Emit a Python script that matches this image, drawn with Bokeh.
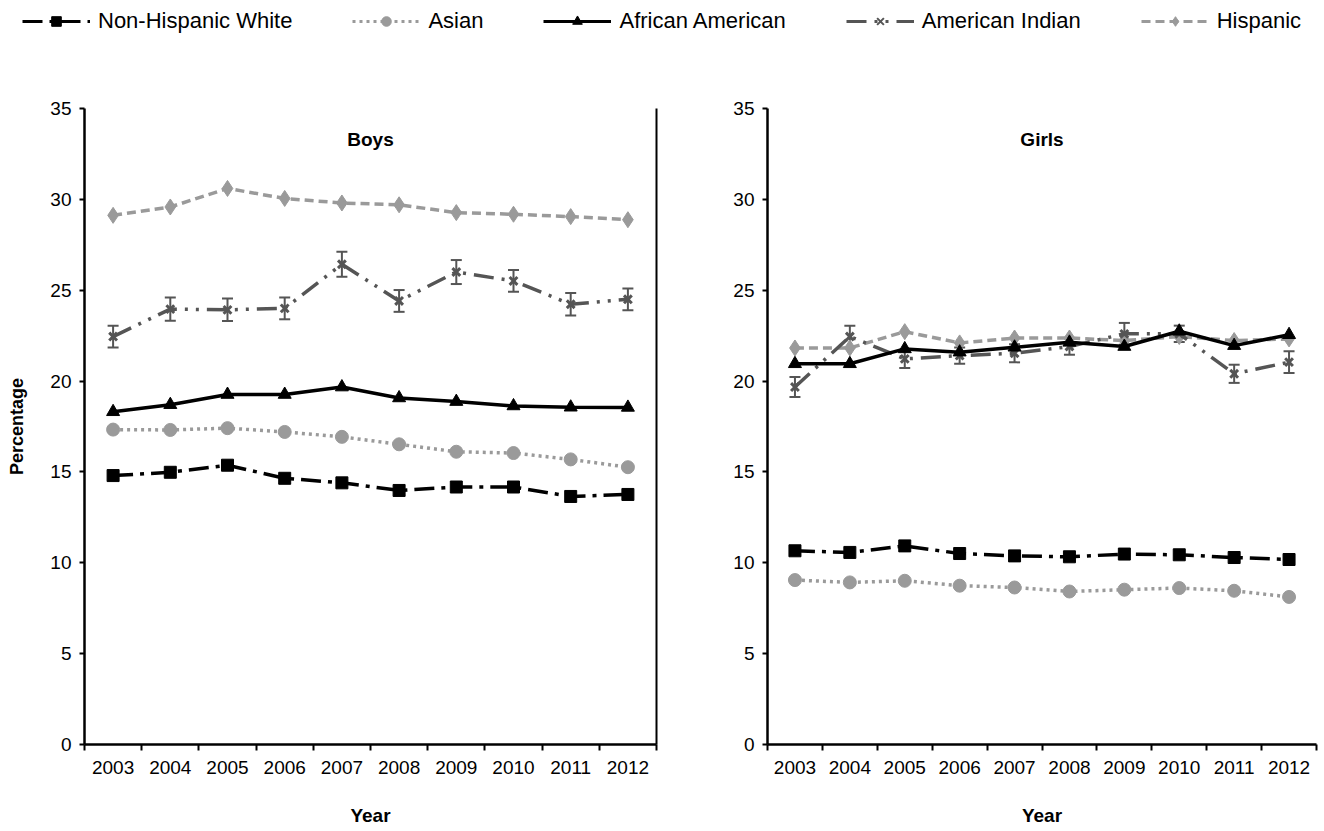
from bokeh.plotting import figure
from bokeh.models import (ColumnDataSource, Whisker, TeeHead, Legend, LegendItem,
                          FixedTicker, Label, LinearAxis, Range1d)
from bokeh.layouts import column, row
from bokeh.embed import file_html
from bokeh.resources import INLINE

# ---------------- data ----------------
years = [2003, 2004, 2005, 2006, 2007, 2008, 2009, 2010, 2011, 2012]
series_names = ["Non-Hispanic White", "Asian", "African American", "American Indian", "Hispanic"]

boys_nhw = [14.8, 14.98, 15.37, 14.65, 14.4, 13.98, 14.17, 14.17, 13.65, 13.76]
boys_asian = [17.33, 17.31, 17.41, 17.2, 16.93, 16.52, 16.11, 16.04, 15.69, 15.26]
boys_afam = [18.31, 18.7, 19.26, 19.26, 19.67, 19.07, 18.87, 18.63, 18.56, 18.55]
boys_amind = [22.45, 23.96, 23.92, 24.0, 26.43, 24.41, 26.0, 25.51, 24.23, 24.5]
boys_amind_err = [0.6, 0.64, 0.62, 0.6, 0.69, 0.6, 0.66, 0.6, 0.62, 0.6]
boys_hisp = [29.12, 29.58, 30.6, 30.05, 29.8, 29.7, 29.27, 29.18, 29.05, 28.88]

girls_nhw = [10.66, 10.57, 10.93, 10.51, 10.38, 10.33, 10.48, 10.44, 10.29, 10.18]
girls_asian = [9.05, 8.92, 9.01, 8.74, 8.64, 8.42, 8.52, 8.61, 8.46, 8.12]
girls_afam = [20.95, 20.95, 21.77, 21.59, 21.86, 22.13, 21.9, 22.74, 21.95, 22.55]
girls_amind = [19.67, 22.45, 21.22, 21.4, 21.53, 21.9, 22.6, 22.6, 20.4, 21.04]
girls_amind_err = [0.55, 0.6, 0.5, 0.45, 0.5, 0.45, 0.6, 0.45, 0.5, 0.6]
girls_hisp = [21.82, 21.82, 22.72, 22.1, 22.37, 22.37, 22.23, 22.45, 22.23, 22.32]

y_ticks = [0, 5, 10, 15, 20, 25, 30, 35]

# ---------------- styles ----------------
FONT = "Liberation Sans"
GREY = "#9a9a9a"
DGREY = "#555555"
styles = {
    "Non-Hispanic White": dict(color="black", dash="20 7 4 7", marker="square", size=12, lw=3.5),
    "Asian": dict(color=GREY, dash="3 4", marker="circle", size=13, lw=3.5),
    "African American": dict(color="black", dash="solid", marker="triangle", size=13, lw=3.5),
    "American Indian": dict(color=DGREY, dash="20 8 3 8 3 8", marker="x", size=11, lw=3.5),
    "Hispanic": dict(color=GREY, dash="9 5", marker="diamond", size=16, lw=3.5),
}

boundaries = [y - 0.5 for y in years] + [years[-1] + 0.5]


def make_panel(title, data, err, width, height, bl, br, y_label):
    p = figure(width=width, height=height, output_backend="svg", toolbar_location=None,
               x_range=Range1d(years[0] - 0.5, years[-1] + 0.5), y_range=Range1d(0, 35),
               min_border_left=bl, min_border_right=br, min_border_top=60, min_border_bottom=85)
    p.outline_line_color = None
    p.grid.visible = False
    p.background_fill_color = "white"
    p.border_fill_color = "white"

    xa = p.xaxis[0]
    xa.ticker = FixedTicker(ticks=years, minor_ticks=boundaries)
    xa.major_tick_line_color = None
    xa.major_tick_out = 5
    xa.major_tick_in = 0
    xa.minor_tick_line_color = "black"
    xa.minor_tick_line_width = 2
    xa.minor_tick_out = 6
    xa.minor_tick_in = 0
    xa.axis_line_width = 2.5
    xa.axis_label = "Year"
    xa.axis_label_text_font = FONT
    xa.axis_label_text_font_style = "bold"
    xa.axis_label_text_font_size = "19px"
    xa.axis_label_text_color = "black"
    xa.axis_label_standoff = 28
    xa.major_label_text_font = FONT
    xa.major_label_text_font_size = "19px"
    xa.major_label_standoff = 10
    xa.major_label_text_color = "black"

    ya = p.yaxis[0]
    ya.ticker = FixedTicker(ticks=y_ticks, minor_ticks=[])
    ya.major_tick_line_width = 2
    ya.major_tick_out = 5
    ya.major_tick_in = 0
    ya.axis_line_width = 2.5
    ya.major_label_text_font = FONT
    ya.major_label_text_font_size = "19px"
    ya.major_label_standoff = 8
    ya.major_label_text_color = "black"
    if y_label:
        ya.axis_label = y_label
        ya.axis_label_text_font = FONT
        ya.axis_label_text_font_style = "bold"
        ya.axis_label_text_font_size = "18px"
        ya.axis_label_text_color = "black"
        ya.axis_label_standoff = 20

    order = ["Hispanic", "American Indian", "African American", "Asian", "Non-Hispanic White"]
    for name in order:
        st = styles[name]
        src = ColumnDataSource(dict(x=years, y=data[name]))
        p.line("x", "y", source=src, line_color=st["color"], line_width=st["lw"], line_dash=st["dash"])
        if name == "American Indian":
            lo = [v - e for v, e in zip(data[name], err)]
            hi = [v + e for v, e in zip(data[name], err)]
            wsrc = ColumnDataSource(dict(x=years, lower=lo, upper=hi))
            w = Whisker(source=wsrc, base="x", lower="lower", upper="upper", dimension="height",
                        line_color=DGREY, line_width=2,
                        upper_head=TeeHead(size=11, line_color=DGREY, line_width=2),
                        lower_head=TeeHead(size=11, line_color=DGREY, line_width=2))
            p.add_layout(w)
            p.scatter("x", "y", source=src, marker="x", size=st["size"], line_color=DGREY, line_width=3)
        else:
            p.scatter("x", "y", source=src, marker=st["marker"], size=st["size"],
                      fill_color=st["color"], line_color=st["color"])

    p.add_layout(Label(x=(years[0] + years[-1]) / 2, y=33.3, text=title, text_align="center",
                       text_baseline="middle", text_font=FONT, text_font_style="bold",
                       text_font_size="19px", text_color="black"))
    return p


boys_data = {"Non-Hispanic White": boys_nhw, "Asian": boys_asian, "African American": boys_afam,
             "American Indian": boys_amind, "Hispanic": boys_hisp}
girls_data = {"Non-Hispanic White": girls_nhw, "Asian": girls_asian, "African American": girls_afam,
              "American Indian": girls_amind, "Hispanic": girls_hisp}

boys = make_panel("Boys", boys_data, boys_amind_err, 696, 781, 84, 40, "Percentage")
right_ax = LinearAxis(ticker=FixedTicker(ticks=[]), axis_line_width=2,
                      major_tick_line_color=None, minor_tick_line_color=None)
boys.add_layout(right_ax, "right")
girls = make_panel("Girls", girls_data, girls_amind_err, 624, 781, 71, 4, None)

# ---------------- legend strip ----------------
# legend swatches reuse the boys series; the strip's ranges keep the lines themselves out of view
lf = figure(width=1320, height=48, output_backend="svg", toolbar_location=None,
            x_range=Range1d(0, 1), y_range=Range1d(0, 1),
            min_border_left=22, min_border_top=8, min_border_right=0, min_border_bottom=0,
            x_axis_type=None, y_axis_type=None)
lf.outline_line_color = None
lf.grid.visible = False
items = []
for name in series_names:
    st = styles[name]
    src = ColumnDataSource(dict(x=years, y=boys_data[name]))
    lr = lf.line("x", "y", source=src, line_color=st["color"], line_width=3, line_dash=st["dash"])
    if name == "American Indian":
        mr = lf.scatter("x", "y", source=src, marker="x", size=10, line_color=DGREY, line_width=2)
    else:
        mr = lf.scatter("x", "y", source=src, marker=st["marker"], size=10,
                        fill_color=st["color"], line_color=st["color"])
    items.append(LegendItem(label=name, renderers=[lr, mr]))

leg = Legend(items=items, orientation="horizontal", location="top_left",
             padding=0, margin=0, spacing=60, glyph_width=68, glyph_height=24,
             label_standoff=8, label_text_font=FONT, label_text_font_size="22px",
             label_text_color="black",
             label_height=24, border_line_color=None, background_fill_alpha=0)
lf.add_layout(leg, "center")

layout = column(lf, row(boys, girls))

open("out.html", "w").write(file_html(layout, INLINE))
